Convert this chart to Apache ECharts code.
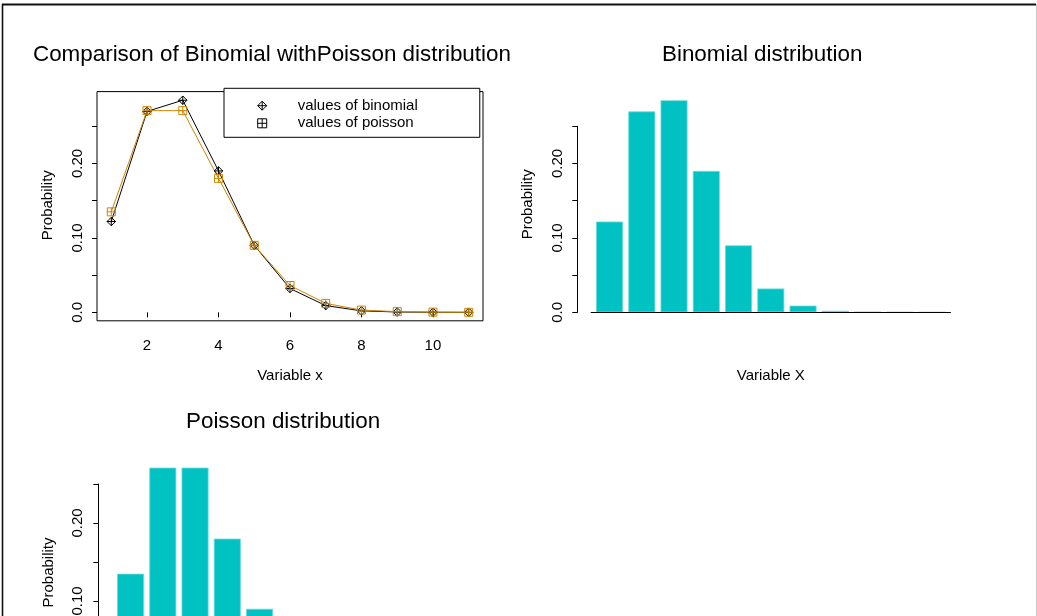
<!DOCTYPE html>
<html>
<head>
<meta charset="utf-8">
<script src="https://cdn.jsdelivr.net/npm/echarts@6/dist/echarts.min.js"></script>
<style>
  html, body { margin: 0; padding: 0; background: #fff; }
  #chart { width: 1037px; height: 616px; }
</style>
</head>
<body>
<div id="chart"></div>
<script>
// data
const xVals = [1, 2, 3, 4, 5, 6, 7, 8, 9, 10, 11]
const binomProb = [0.122, 0.270, 0.285, 0.190, 0.090, 0.032, 0.009, 0.002, 0.0004, 0.0001, 0.0000]
const poisProb = [0.135, 0.271, 0.271, 0.180, 0.090, 0.036, 0.012, 0.003, 0.0009, 0.0002, 0.00004]
const probTicks = [0, 0.05, 0.1, 0.15, 0.2, 0.25]
const probLabels = [0, 0.1, 0.2]
const xTicks = [2, 4, 6, 8, 10]
const baselineRange = [0.4167, 11.583]

const FONT = '"Liberation Sans", Arial, sans-serif'
const BAR = '#00C2C2'
const ORANGE = '#CD8500'
const diamondPlus = 'path://M5,0L10,5L5,10L0,5Z M5,0L5,10 M0,5L10,5'
const squarePlus = 'path://M0,0L10,0L10,10L0,10Z M5,0L5,10 M0,5L10,5'

const pairs = (xs, ys) => xs.map((x, i) => [x, ys[i]])
const probFmt = v => (v === 0 ? '0.0' : v.toFixed(2))
const txt = { color: '#000', fontSize: 15, fontFamily: FONT }

// y axis in R style: ticks every 0.05, labels at 0, 0.1, 0.2, rotated
// namePad shifts the rotated "Probability" up along the axis
const probAxis = (gridIndex, min, max, showLine, margin, namePad) => ({
  gridIndex, type: 'value', min, max,
  splitLine: { show: false },
  axisLine: { show: showLine, onZero: false, lineStyle: { color: '#000', width: 1 } },
  axisTick: { show: true, length: 5, customValues: probTicks, lineStyle: { color: '#000' } },
  axisLabel: { customValues: probLabels, rotate: 90, margin, formatter: probFmt, ...txt },
  name: 'Probability', nameLocation: 'middle', nameRotate: 90, nameGap: 42,
  nameTextStyle: { ...txt, padding: [0, 0, 0, namePad] }
})

const barXAxis = (gridIndex, gap) => ({
  gridIndex, type: 'value', min: 0, max: 12,
  axisLine: { show: false }, axisTick: { show: false }, axisLabel: { show: false },
  splitLine: { show: false },
  name: 'Variable X', nameLocation: 'middle', nameGap: gap, nameTextStyle: { ...txt }
})

const barSeries = (name, idx, values) => ({
  name, type: 'bar', xAxisIndex: idx, yAxisIndex: idx,
  data: pairs(xVals, values),
  barWidth: 27, clip: false,
  itemStyle: { color: BAR, borderColor: '#6ddada', borderWidth: 0.8 },
  markLine: {
    silent: true, symbol: 'none', label: { show: false },
    lineStyle: { color: '#000', width: 1, type: 'solid' },
    data: [[{ coord: [baselineRange[0], 0] }, { coord: [baselineRange[1], 0] }]]
  }
})

const chart = echarts.init(document.getElementById('chart'))
chart.setOption({
  animation: false,
  backgroundColor: '#fff',
  title: [
    { text: 'Comparison of Binomial withPoisson distribution', left: 33, top: 44, padding: 0,
      textStyle: { ...txt, fontSize: 22.4, fontWeight: 'normal' } },
    { text: 'Binomial distribution', left: 662, top: 44, padding: 0,
      textStyle: { ...txt, fontSize: 22.4, fontWeight: 'normal' } },
    { text: 'Poisson distribution', left: 186, top: 410.5, padding: 0,
      textStyle: { ...txt, fontSize: 22.4, fontWeight: 'normal' } }
  ],
  legend: {
    orient: 'vertical',
    left: 224, top: 88.3,
    padding: [9.9, 62, 6.5, 33.2],
    itemWidth: 9, itemHeight: 9, itemGap: 2.6,
    backgroundColor: '#fff', borderColor: '#000', borderWidth: 1, borderRadius: 0,
    selectedMode: false,
    formatter: name => '{gap| }' + name,
    textStyle: { ...txt, lineHeight: 15, rich: { gap: { width: 26 } } },
    data: [
      { name: 'values of binomial', icon: diamondPlus,
        itemStyle: { color: 'transparent', borderColor: '#000', borderWidth: 1 } },
      { name: 'values of poisson', icon: squarePlus,
        itemStyle: { color: 'transparent', borderColor: '#000', borderWidth: 1 } }
    ]
  },
  grid: [
    { left: 97, top: 91.6, width: 386, height: 229.2, show: true, borderColor: '#000', borderWidth: 1,
      outerBoundsMode: 'none' },
    { left: 577.3, top: 126.3, width: 387, height: 186, outerBoundsMode: 'none' },
    { left: 98.3, top: 484, width: 387, height: 195, outerBoundsMode: 'none' }
  ],
  xAxis: [
    {
      gridIndex: 0, type: 'value', min: 0.6, max: 11.4,
      splitLine: { show: false },
      axisLine: { show: false },
      axisTick: { show: true, length: 5, customValues: xTicks, lineStyle: { color: '#000' } },
      axisLabel: { customValues: xTicks, margin: 17.5, ...txt },
      name: 'Variable x', nameLocation: 'middle', nameGap: 47.5, nameTextStyle: { ...txt }
    },
    barXAxis(1, 56.2),
    barXAxis(2, 56.2)
  ],
  yAxis: [
    probAxis(0, -0.0114, 0.2966, false, 11.3, 2),
    probAxis(1, 0, 0.25, true, 12.3, 30),
    probAxis(2, 0, 0.25, true, 12.5, 18)
  ],
  series: [
    {
      name: 'values of binomial', type: 'line', xAxisIndex: 0, yAxisIndex: 0,
      data: pairs(xVals, binomProb),
      symbol: diamondPlus, symbolSize: 8.5, showSymbol: true,
      lineStyle: { color: '#000', width: 1 },
      itemStyle: { color: 'transparent', borderColor: '#000', borderWidth: 1 },
      emphasis: { disabled: true }
    },
    {
      name: 'values of poisson', type: 'line', xAxisIndex: 0, yAxisIndex: 0,
      data: pairs(xVals, poisProb),
      symbol: squarePlus, symbolSize: 8, showSymbol: true,
      lineStyle: { color: ORANGE, width: 1 },
      itemStyle: { color: 'transparent', borderColor: ORANGE, borderWidth: 1 },
      emphasis: { disabled: true }
    },
    barSeries('Binomial bars', 1, binomProb),
    barSeries('Poisson bars', 2, poisProb)
  ],
  graphic: [
    { type: 'line', silent: true, shape: { x1: 2, y1: 4.5, x2: 1036, y2: 4.5 }, style: { stroke: '#111', lineWidth: 1.8 } },
    { type: 'line', silent: true, shape: { x1: 2.5, y1: 4, x2: 2.5, y2: 616 }, style: { stroke: '#111', lineWidth: 1.6 } },
    { type: 'line', silent: true, shape: { x1: 1036.5, y1: 4, x2: 1036.5, y2: 616 }, style: { stroke: '#c8c8c8', lineWidth: 1 } }
  ]
})
</script>
</body>
</html>
